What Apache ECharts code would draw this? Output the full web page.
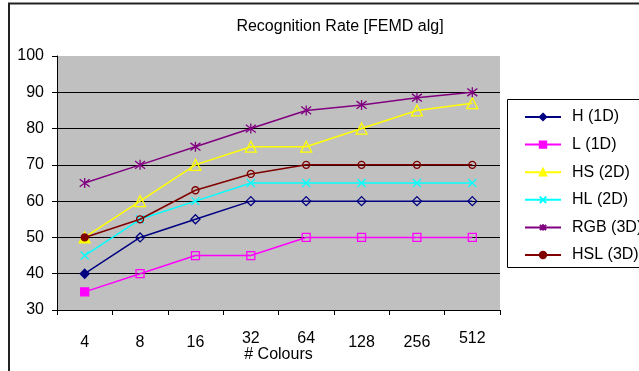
<!DOCTYPE html>
<html><head><meta charset="utf-8">
<script src="https://cdn.jsdelivr.net/npm/echarts@6/dist/echarts.min.js"></script>
<style>html,body{margin:0;padding:0;background:#fff}#c{width:639px;height:371px}</style>
</head><body><div id="c"></div>
<script>
var categories = ['4','8','16','32','64','128','256','512'];
var seriesNames = ['H (1D)','L (1D)','HS (2D)','HL (2D)','RGB (3D)','HSL (3D)'];
var H1 = [40, 50, 55, 60, 60, 60, 60, 60];
var L1 = [35, 40, 45, 45, 50, 50, 50, 50];
var HS2 = [50, 60, 70, 75, 75, 80, 85, 87];
var HL2 = [45, 55, 60, 65, 65, 65, 65, 65];
var RGB3 = [65, 70, 75, 80, 85, 86.5, 88.5, 90];
var HSL3 = [50, 55, 63, 67.5, 70, 70, 70, 70];
var yTicks = {min: 30, max: 100, interval: 10};

var FONT = '"Liberation Sans", Arial, sans-serif';
var colors = ['#000080', '#FF00FF', '#FFFF00', '#00FFFF', '#800080', '#800000'];
var XPATH = 'path://M0,0L10,10M10,0L0,10';
var STAR = 'path://M0,0L10,10M10,0L0,10M5,-1.5L5,11.5';
var symbols = ['diamond', 'rect', 'triangle', XPATH, STAR, 'circle'];
var sizes = [9, 8, 11, 8, 10, 7];
var allData = [H1, L1, HS2, HL2, RGB3, HSL3];
var raisedLabels = ['32', '64', '512'];

var series = seriesNames.map(function (n, i) {
  var c = colors[i];
  return {
    name: n, type: 'line', symbol: symbols[i], symbolSize: sizes[i],
    lineStyle: {color: c, width: 1.5},
    itemStyle: {color: 'rgba(0,0,0,0)', borderColor: c, borderWidth: 1.3},
    data: allData[i].map(function (v, j) {
      return j === 0 ? {value: v, itemStyle: {color: c, borderColor: c}} : v;
    }),
    z: 3 + i
  };
});

var chart = echarts.init(document.getElementById('c'));
chart.setOption({
  animation: false,
  textStyle: {fontFamily: FONT},
  title: {text: 'Recognition Rate [FEMD alg]', left: 335, top: 14, textAlign: 'center',
    textStyle: {fontFamily: FONT, fontSize: 16, fontWeight: 'normal', color: '#000'}},
  grid: {left: 57, right: 139, top: 56, bottom: 61, show: true, backgroundColor: '#c0c0c0', borderWidth: 0,
    containLabel: false, outerBoundsMode: 'none'},
  legend: {
    orient: 'vertical', left: 519, top: 103, itemWidth: 36, itemHeight: 8, itemGap: 9.6,
    textStyle: {fontFamily: FONT, fontSize: 16, color: '#000', lineHeight: 18, padding: [0, 0, 0, 6]},
    data: seriesNames.map(function (n, i) {
      return {name: n, itemStyle: {color: colors[i], borderColor: colors[i]}};
    })
  },
  xAxis: {
    type: 'category', boundaryGap: true,
    data: categories.map(function (c) {
      return raisedLabels.indexOf(c) >= 0 ? {value: c, textStyle: {lineHeight: 18}} : c;
    }),
    name: '# Colours', nameLocation: 'middle', nameGap: 37, nameMoveOverlap: false,
    nameTextStyle: {fontFamily: FONT, fontSize: 16, color: '#000'},
    axisLine: {lineStyle: {color: '#000', width: 1}},
    axisTick: {show: true, interval: 0, length: 5, lineStyle: {color: '#000'}},
    axisLabel: {fontFamily: FONT, fontSize: 16, color: '#000', margin: 20, interval: 0, lineHeight: 26},
    splitLine: {show: false}
  },
  yAxis: {
    type: 'value', min: yTicks.min, max: yTicks.max, interval: yTicks.interval,
    axisLine: {show: true, lineStyle: {color: '#000', width: 1}},
    axisTick: {show: true, length: 5, lineStyle: {color: '#000'}},
    axisLabel: {fontFamily: FONT, fontSize: 16, color: '#000', margin: 13},
    splitLine: {show: true, showMinLine: false, showMaxLine: false, lineStyle: {color: '#000', width: 1}}
  },
  graphic: [
    {type: 'rect', shape: {x: 9, y: 3.5, width: 700, height: 500}, style: {fill: 'none', stroke: '#222', lineWidth: 2}, z: -10, silent: true},
    {type: 'rect', shape: {x: 507.5, y: 99.5, width: 200, height: 168}, style: {fill: '#fff', stroke: '#000', lineWidth: 1}, z: -5, silent: true}
  ],
  series: series
});
</script></body></html>
